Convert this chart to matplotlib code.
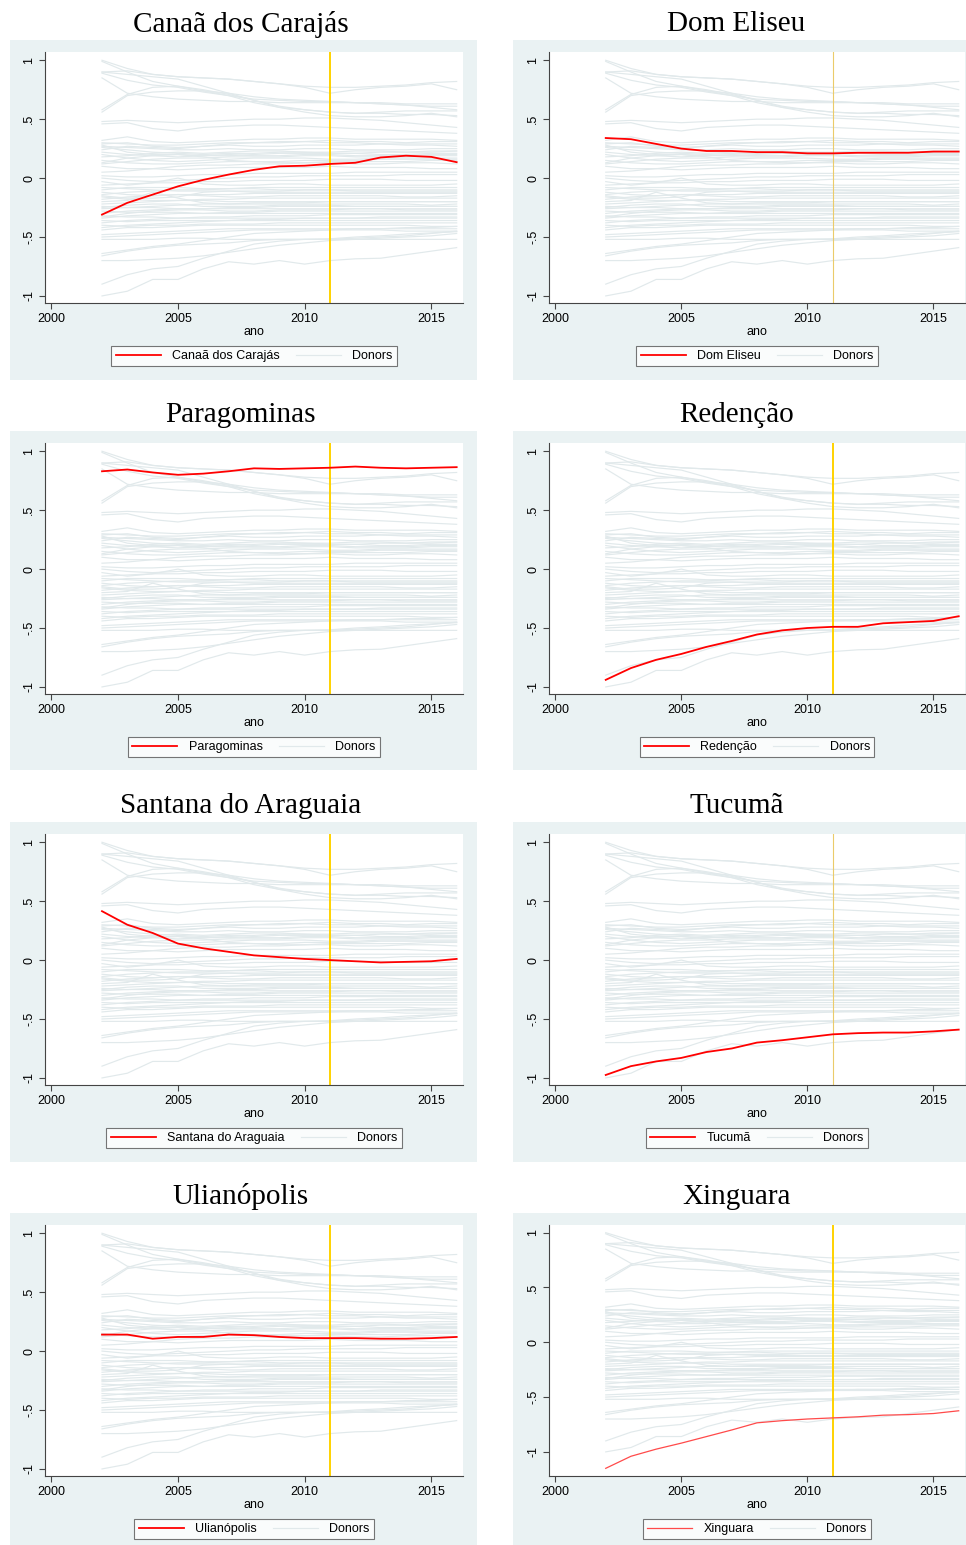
import matplotlib
matplotlib.use("Agg")
import matplotlib.pyplot as plt
from matplotlib.patches import Rectangle

# anos observados (2002-2016)
anos = list(range(2002, 2017))
ano_tratamento = 2011

# municipios tratados e sua serie
municipios = ["Canaã dos Carajás", "Dom Eliseu", "Paragominas", "Redenção",
              "Santana do Araguaia", "Tucumã", "Ulianópolis", "Xinguara"]

canaa = [-0.31, -0.21, -0.14, -0.07, -0.015, 0.03, 0.07, 0.10, 0.105, 0.12, 0.13, 0.175, 0.19, 0.18, 0.135]
dom_eliseu = [0.34, 0.33, 0.29, 0.25, 0.23, 0.23, 0.22, 0.22, 0.21, 0.21, 0.215, 0.215, 0.215, 0.225, 0.225]
paragominas = [0.83, 0.845, 0.82, 0.80, 0.81, 0.83, 0.855, 0.85, 0.855, 0.86, 0.87, 0.86, 0.855, 0.86, 0.865]
redencao = [-0.94, -0.84, -0.77, -0.72, -0.66, -0.61, -0.555, -0.52, -0.50, -0.49, -0.49, -0.46, -0.45, -0.44, -0.40]
santana = [0.415, 0.30, 0.23, 0.14, 0.10, 0.07, 0.04, 0.025, 0.01, 0.0, -0.01, -0.02, -0.015, -0.01, 0.01]
tucuma = [-0.975, -0.90, -0.86, -0.83, -0.78, -0.75, -0.70, -0.68, -0.655, -0.63, -0.62, -0.615, -0.615, -0.605, -0.59]
ulianopolis = [0.14, 0.14, 0.105, 0.12, 0.12, 0.14, 0.135, 0.12, 0.11, 0.11, 0.11, 0.105, 0.105, 0.11, 0.12]
xinguara = [-1.15, -1.04, -0.975, -0.92, -0.86, -0.80, -0.735, -0.715, -0.70, -0.69, -0.68, -0.665, -0.66, -0.65, -0.625]
tratados = [canaa, dom_eliseu, paragominas, redencao, santana, tucuma, ulianopolis, xinguara]

# municipios doadores (mesmos em todos os graficos)
doadores = [
    [1.00, 0.93, 0.88, 0.86, 0.85, 0.84, 0.82, 0.80, 0.77, 0.72, 0.75, 0.77, 0.78, 0.80, 0.75],
    [0.99, 0.90, 0.82, 0.78, 0.74, 0.70, 0.64, 0.60, 0.58, 0.56, 0.55, 0.55, 0.54, 0.54, 0.53],
    [0.90, 0.91, 0.88, 0.86, 0.85, 0.84, 0.82, 0.80, 0.78, 0.77, 0.77, 0.78, 0.79, 0.81, 0.82],
    [0.89, 0.83, 0.79, 0.77, 0.73, 0.70, 0.67, 0.66, 0.65, 0.65, 0.64, 0.64, 0.63, 0.63, 0.63],
    [0.85, 0.72, 0.69, 0.67, 0.66, 0.65, 0.65, 0.64, 0.64, 0.64, 0.64, 0.63, 0.62, 0.61, 0.61],
    [0.56, 0.70, 0.73, 0.74, 0.74, 0.72, 0.69, 0.67, 0.66, 0.65, 0.64, 0.63, 0.62, 0.60, 0.58],
    [0.58, 0.71, 0.77, 0.78, 0.75, 0.71, 0.66, 0.61, 0.58, 0.56, 0.55, 0.56, 0.57, 0.57, 0.57],
    [0.48, 0.49, 0.48, 0.47, 0.48, 0.49, 0.50, 0.50, 0.51, 0.51, 0.50, 0.49, 0.47, 0.45, 0.43],
    [0.46, 0.47, 0.42, 0.40, 0.43, 0.44, 0.45, 0.45, 0.44, 0.43, 0.42, 0.41, 0.40, 0.39, 0.38],
    [0.90, 0.88, 0.86, 0.84, 0.78, 0.72, 0.66, 0.60, 0.56, 0.53, 0.52, 0.52, 0.53, 0.55, 0.52],
    [0.32, 0.35, 0.31, 0.30, 0.31, 0.32, 0.33, 0.33, 0.34, 0.34, 0.33, 0.33, 0.33, 0.33, 0.32],
    [0.30, 0.29, 0.28, 0.28, 0.29, 0.30, 0.30, 0.31, 0.31, 0.30, 0.30, 0.29, 0.28, 0.28, 0.27],
    [0.29, 0.30, 0.27, 0.26, 0.27, 0.29, 0.30, 0.30, 0.31, 0.32, 0.31, 0.31, 0.30, 0.31, 0.31],
    [0.27, 0.26, 0.25, 0.24, 0.24, 0.25, 0.24, 0.24, 0.25, 0.25, 0.24, 0.24, 0.24, 0.25, 0.25],
    [0.26, 0.24, 0.22, 0.21, 0.20, 0.21, 0.21, 0.22, 0.22, 0.21, 0.21, 0.22, 0.22, 0.22, 0.23],
    [0.24, 0.27, 0.26, 0.25, 0.27, 0.28, 0.27, 0.27, 0.28, 0.28, 0.28, 0.29, 0.29, 0.29, 0.29],
    [0.22, 0.20, 0.19, 0.18, 0.19, 0.20, 0.19, 0.19, 0.20, 0.20, 0.19, 0.19, 0.19, 0.20, 0.20],
    [0.20, 0.17, 0.15, 0.14, 0.15, 0.16, 0.17, 0.17, 0.17, 0.16, 0.16, 0.17, 0.17, 0.17, 0.17],
    [0.18, 0.19, 0.21, 0.22, 0.21, 0.22, 0.23, 0.23, 0.22, 0.22, 0.23, 0.23, 0.22, 0.23, 0.23],
    [0.15, 0.13, 0.12, 0.12, 0.13, 0.14, 0.14, 0.13, 0.13, 0.13, 0.12, 0.12, 0.13, 0.13, 0.12],
    [0.12, 0.14, 0.16, 0.17, 0.17, 0.18, 0.18, 0.18, 0.19, 0.19, 0.18, 0.18, 0.18, 0.19, 0.19],
    [0.10, 0.08, 0.08, 0.07, 0.08, 0.09, 0.09, 0.09, 0.09, 0.10, 0.09, 0.09, 0.09, 0.08, 0.08],
    [0.05, 0.06, 0.08, 0.10, 0.11, 0.11, 0.12, 0.12, 0.13, 0.14, 0.14, 0.14, 0.14, 0.15, 0.15],
    [0.02, 0.01, 0.01, 0.02, 0.03, 0.03, 0.04, 0.04, 0.04, 0.04, 0.05, 0.05, 0.05, 0.05, 0.05],
    [0.00, -0.02, -0.03, -0.02, -0.01, 0.00, 0.01, 0.01, 0.02, 0.02, 0.02, 0.02, 0.03, 0.03, 0.03],
    [-0.03, -0.06, -0.04, 0.00, -0.05, -0.06, -0.06, -0.05, -0.05, -0.06, -0.06, -0.06, -0.06, -0.06, -0.05],
    [-0.06, -0.05, -0.04, -0.04, -0.03, -0.03, -0.02, -0.02, -0.02, -0.01, -0.01, -0.01, -0.02, -0.02, -0.02],
    [-0.08, -0.09, -0.10, -0.11, -0.11, -0.11, -0.12, -0.12, -0.12, -0.12, -0.12, -0.12, -0.12, -0.12, -0.12],
    [-0.10, -0.08, -0.08, -0.08, -0.09, -0.09, -0.09, -0.10, -0.10, -0.10, -0.10, -0.10, -0.10, -0.10, -0.10],
    [-0.12, -0.14, -0.15, -0.14, -0.15, -0.16, -0.16, -0.15, -0.15, -0.15, -0.15, -0.15, -0.16, -0.16, -0.15],
    [-0.14, -0.12, -0.11, -0.10, -0.10, -0.09, -0.08, -0.08, -0.08, -0.08, -0.08, -0.08, -0.08, -0.08, -0.08],
    [-0.16, -0.18, -0.19, -0.19, -0.19, -0.20, -0.20, -0.20, -0.20, -0.20, -0.20, -0.20, -0.20, -0.20, -0.20],
    [-0.18, -0.16, -0.15, -0.14, -0.14, -0.14, -0.13, -0.13, -0.13, -0.13, -0.13, -0.13, -0.13, -0.13, -0.13],
    [-0.20, -0.19, -0.12, -0.17, -0.21, -0.22, -0.22, -0.22, -0.22, -0.22, -0.22, -0.22, -0.22, -0.23, -0.22],
    [-0.22, -0.21, -0.20, -0.19, -0.18, -0.18, -0.17, -0.17, -0.17, -0.17, -0.17, -0.17, -0.17, -0.17, -0.17],
    [-0.24, -0.25, -0.25, -0.26, -0.26, -0.26, -0.26, -0.26, -0.26, -0.26, -0.26, -0.26, -0.26, -0.26, -0.26],
    [-0.26, -0.25, -0.24, -0.23, -0.22, -0.22, -0.21, -0.21, -0.21, -0.20, -0.20, -0.20, -0.20, -0.20, -0.20],
    [-0.28, -0.29, -0.29, -0.29, -0.30, -0.30, -0.30, -0.30, -0.30, -0.30, -0.30, -0.30, -0.30, -0.30, -0.30],
    [-0.30, -0.28, -0.27, -0.26, -0.26, -0.25, -0.25, -0.24, -0.24, -0.24, -0.24, -0.24, -0.24, -0.24, -0.24],
    [-0.32, -0.33, -0.33, -0.34, -0.34, -0.34, -0.34, -0.34, -0.34, -0.34, -0.34, -0.34, -0.34, -0.34, -0.34],
    [-0.34, -0.32, -0.31, -0.30, -0.30, -0.29, -0.29, -0.28, -0.28, -0.28, -0.28, -0.28, -0.28, -0.28, -0.28],
    [-0.36, -0.37, -0.36, -0.36, -0.36, -0.36, -0.36, -0.36, -0.36, -0.36, -0.36, -0.36, -0.36, -0.36, -0.36],
    [-0.38, -0.36, -0.35, -0.34, -0.33, -0.33, -0.32, -0.32, -0.32, -0.31, -0.31, -0.31, -0.31, -0.31, -0.31],
    [-0.40, -0.41, -0.40, -0.40, -0.39, -0.39, -0.39, -0.38, -0.38, -0.38, -0.38, -0.38, -0.38, -0.38, -0.38],
    [-0.42, -0.40, -0.39, -0.38, -0.37, -0.36, -0.35, -0.35, -0.34, -0.34, -0.34, -0.33, -0.33, -0.33, -0.33],
    [-0.48, -0.47, -0.46, -0.45, -0.44, -0.43, -0.43, -0.43, -0.43, -0.43, -0.43, -0.43, -0.43, -0.43, -0.43],
    [-0.50, -0.49, -0.48, -0.47, -0.46, -0.45, -0.44, -0.44, -0.44, -0.44, -0.44, -0.44, -0.45, -0.45, -0.45],
    [-0.52, -0.52, -0.52, -0.51, -0.51, -0.52, -0.52, -0.52, -0.52, -0.52, -0.52, -0.52, -0.52, -0.52, -0.52],
    [0.28, 0.22, 0.20, 0.20, 0.19, 0.19, 0.20, 0.21, 0.21, 0.21, 0.21, 0.20, 0.20, 0.21, 0.21],
    [0.13, 0.17, 0.19, 0.20, 0.18, 0.15, 0.14, 0.14, 0.15, 0.15, 0.15, 0.16, 0.16, 0.16, 0.16],
    [-0.15, -0.17, -0.17, -0.16, -0.12, -0.11, -0.11, -0.11, -0.10, -0.10, -0.11, -0.11, -0.11, -0.11, -0.11],
    [-0.25, -0.23, -0.22, -0.22, -0.24, -0.24, -0.24, -0.23, -0.23, -0.23, -0.24, -0.24, -0.24, -0.24, -0.24],
    [-0.33, -0.30, -0.28, -0.27, -0.27, -0.28, -0.28, -0.27, -0.27, -0.27, -0.26, -0.26, -0.27, -0.27, -0.27],
    [-0.44, -0.42, -0.42, -0.41, -0.40, -0.40, -0.40, -0.40, -0.40, -0.40, -0.40, -0.40, -0.40, -0.41, -0.41],
    [-0.64, -0.61, -0.58, -0.56, -0.53, -0.50, -0.47, -0.46, -0.45, -0.44, -0.43, -0.43, -0.42, -0.42, -0.41],
    [-0.66, -0.62, -0.59, -0.57, -0.56, -0.55, -0.53, -0.52, -0.52, -0.52, -0.51, -0.50, -0.49, -0.47, -0.45],
    [-0.70, -0.70, -0.69, -0.68, -0.66, -0.63, -0.60, -0.57, -0.55, -0.53, -0.52, -0.51, -0.50, -0.49, -0.47],
    [-0.90, -0.82, -0.77, -0.75, -0.68, -0.62, -0.56, -0.535, -0.52, -0.515, -0.50, -0.49, -0.475, -0.465, -0.455],
    [-1.00, -0.96, -0.86, -0.86, -0.77, -0.71, -0.73, -0.70, -0.73, -0.70, -0.685, -0.68, -0.65, -0.62, -0.59],
]

yticks = [-1, -0.5, 0, 0.5, 1]
ytick_labels = ["-1", "-.5", "0", ".5", "1"]
xticks = [2000, 2005, 2010, 2015]

W, H = 966, 1545
fig = plt.figure(figsize=(W / 100, H / 100), dpi=100)
fig.patch.set_facecolor("white")

fundo = "#EAF2F3"
cor_doador = "#E1E9EB"
topo_linhas = [40, 431, 822, 1213]
base_linhas = [380, 770, 1162, 1545]
colunas = [(10, 477, 45, 463), (513, 966, 549, 965)]


def px(x, y):
    return x / W, 1 - y / H


for k, nome in enumerate(municipios):
    lin, col = divmod(k, 2)
    bx0, bx1, ax0, ax1 = colunas[col]
    top, bot = topo_linhas[lin], base_linhas[lin]

    # fundo do painel (atras dos eixos)
    fx, fy = px(bx0, bot)
    fig.patches.append(Rectangle((fx, fy), (bx1 - bx0) / W, (bot - top) / H,
                                 transform=fig.transFigure, facecolor=fundo,
                                 edgecolor="none", zorder=-5))
    fig.text((bx0 + bx1) / 2 / W - 3 / W, 1 - (top - 16) / H, nome, ha="center", va="center",
             family="Liberation Serif", fontsize=21)

    ay_top, ay_bot = top + 12, top + 263
    ax = fig.add_axes([ax0 / W, 1 - ay_bot / H, (ax1 - ax0) / W, (ay_bot - ay_top) / H])
    ax.set_zorder(1)
    ax.set_facecolor("white")

    for d in doadores:
        ax.plot(anos, d, color=cor_doador, lw=0.85, zorder=1)

    fino = nome in ("Dom Eliseu", "Tucumã")
    ax.axvline(ano_tratamento, color="#EBCB6A" if fino else "#FFD200",
               lw=0.8 if fino else 1.4, zorder=2)

    if nome == "Xinguara":
        cor_trat, lw_trat = "#FF4A4A", 0.9
    else:
        cor_trat, lw_trat = "#FF0000", 1.3
    ax.plot(anos, tratados[k], color=cor_trat, lw=lw_trat, zorder=3, label=nome)
    ax.plot([], [], color=cor_doador, lw=0.85, label="Donors")

    ax.set_xlim(1999.75, 2016.25)
    if nome == "Xinguara":
        ax.set_ylim(-1.22, 1.07)
    else:
        ax.set_ylim(-1.06, 1.07)
    ax.set_xticks(xticks)
    ax.set_xticklabels([str(t) for t in xticks], family="Liberation Sans", fontsize=9)
    ax.set_yticks(yticks)
    ax.set_yticklabels(ytick_labels, rotation=90, va="center",
                       family="Liberation Sans", fontsize=9)
    for s in ("top", "right"):
        ax.spines[s].set_visible(False)
    for s in ("left", "bottom"):
        ax.spines[s].set_color("#444444")
        ax.spines[s].set_linewidth(0.8)
    ax.tick_params(colors="#444444", length=4, width=0.8, labelcolor="black", pad=3)
    ax.set_xlabel("ano", family="Liberation Sans", fontsize=9, labelpad=1)

    leg = ax.legend(loc="upper center", bbox_to_anchor=(0.5, -0.145), ncol=2,
                    frameon=True, fancybox=False, handlelength=3.6, columnspacing=1.3,
                    handletextpad=0.9, borderpad=0.35,
                    prop={"family": "Liberation Sans", "size": 9})
    leg.get_frame().set_edgecolor("#555555")
    leg.get_frame().set_linewidth(0.8)

fig.savefig("out.png", dpi=100)
